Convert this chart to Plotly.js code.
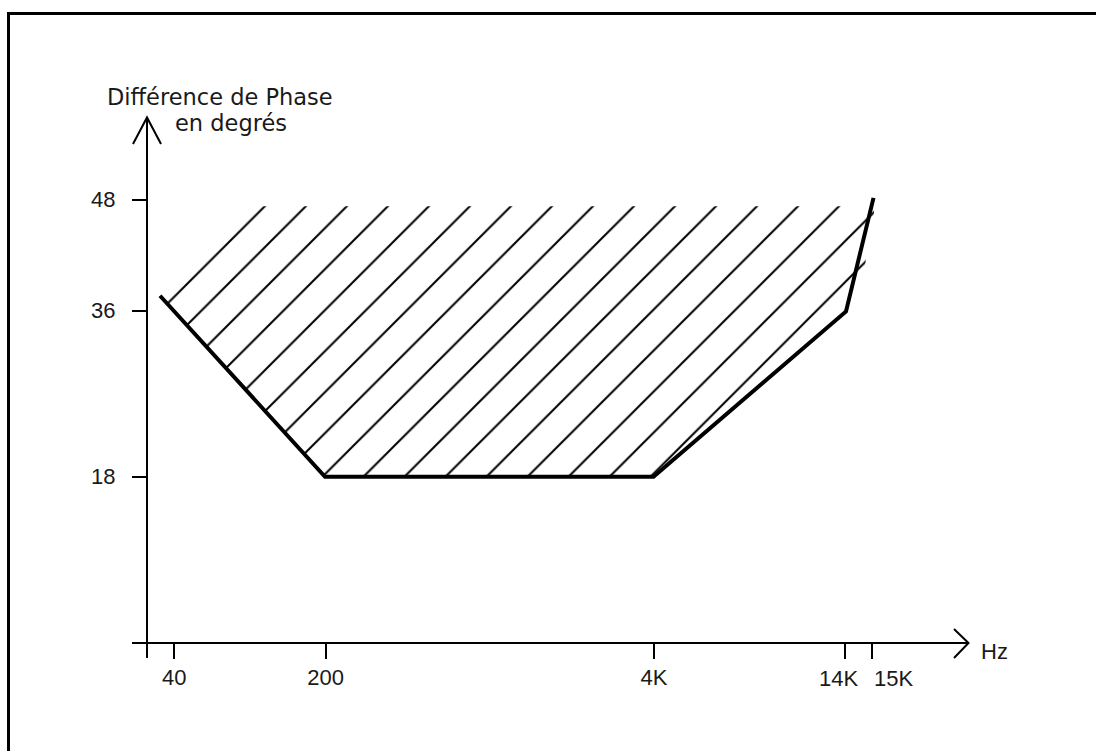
<!DOCTYPE html>
<html><head><meta charset="utf-8">
<script src="https://cdn.plot.ly/plotly-3.0.1.min.js"></script>
<style>html,body{margin:0;padding:0;background:#fff;}#chart{width:1096px;height:751px;}</style>
</head><body><div id="chart"></div>
<script>
// Schematic (non-uniform) frequency axis: axis units for each labelled frequency
const freqLabels = ['40', '200', '4K', '14K', '15K'];
const freqAxisPos = [2.73, 17.87, 50.7, 69.83, 72.53];
// Phase difference ticks (degrees)
const phaseTicks = [18, 36, 48];
// Limit curve (thick line)
const limitX = [1.3, 17.8, 50.65, 69.9, 72.65];
const limitY = [37.6, 18, 18, 35.9, 48.2];
// Hatched (acceptable) zone
const zoneX = [1.3, 17.8, 50.65, 69.9, 71.5, 72.7, 72.7, 11.4, 2.5, 1.3];
const zoneY = [37.6, 18, 18, 35.9, 39.0, 46.6, 47.3, 47.3, 37.7, 37.6];

const W = 1096, H = 751, L = 147, R = 128, T = 119, B = 108;
const PW = W - L - R, PH = H - T - B;
const PXU = 10, PYU = 9.235;
const px = v => (v - L) / PW;
const py = v => (H - B - v) / PH;
const TFONT = {family: '"DejaVu Sans", sans-serif', size: 22.5, color: '#1a1a1a'};
const NFONT = {family: '"Liberation Sans", Arial, sans-serif', size: 22, color: '#1a1a1a'};

function seg(x0, y0, x1, y1, w) {
  return {type: 'line', xref: 'paper', yref: 'paper', x0: px(x0), y0: py(y0), x1: px(x1), y1: py(y1),
          line: {color: '#000', width: w}, layer: 'above'};
}
function poly(pts, w) {
  let d = pts.map((p, i) => (i ? 'L' : 'M') + px(p[0]) + ',' + py(p[1])).join(' ');
  return {type: 'path', xref: 'paper', yref: 'paper', path: d, line: {color: '#000', width: w}, layer: 'above'};
}

const shapes = [
  seg(8.5, 13.5, 1100, 13.5, 3),
  seg(8.5, 12, 8.5, 760, 3),
  seg(132, 643, 969, 643, 2),
  seg(147, 658, 147, 117, 2),
  poly([[954, 629], [968.5, 643], [954, 658]], 2),
  poly([[133, 144], [147, 117.5], [161, 144]], 2)
];

const tickText = freqLabels.map((t, i) => i < 3 ? t : '');
const annotations = [
  {text: 'Différence de Phase', xref: 'paper', yref: 'paper', x: px(220), y: py(97), showarrow: false, font: TFONT, xanchor: 'center', yanchor: 'middle'},
  {text: 'en degrés', xref: 'paper', yref: 'paper', x: px(231), y: py(123), showarrow: false, font: TFONT, xanchor: 'center', yanchor: 'middle'},
  {text: 'Hz', xref: 'paper', yref: 'paper', x: px(995), y: py(651), showarrow: false, font: NFONT, xanchor: 'center', yanchor: 'middle'},
  {text: freqLabels[3], xref: 'x', yref: 'paper', x: freqAxisPos[3], xshift: -7, y: py(678), showarrow: false, font: NFONT, xanchor: 'center', yanchor: 'middle'},
  {text: freqLabels[4], xref: 'x', yref: 'paper', x: freqAxisPos[4], xshift: 21, y: py(678), showarrow: false, font: NFONT, xanchor: 'center', yanchor: 'middle'}
];

const data = [
  {x: zoneX, y: zoneY, type: 'scatter', mode: 'none', fill: 'toself', fillcolor: 'rgba(0,0,0,0)',
   fillpattern: {shape: '/', size: 29, solidity: 0.07, fgcolor: '#000', bgcolor: 'rgba(0,0,0,0)'},
   hoverinfo: 'skip', showlegend: false},
  {x: limitX, y: limitY, type: 'scatter', mode: 'lines', line: {color: '#000', width: 4},
   hoverinfo: 'skip', showlegend: false}
];

const layout = {
  width: W, height: H,
  margin: {l: L, r: R, t: T, b: B, pad: 0},
  paper_bgcolor: '#fff', plot_bgcolor: 'rgba(0,0,0,0)',
  showlegend: false,
  xaxis: {range: [0, PW / PXU], showgrid: false, zeroline: false, showline: false,
          tickmode: 'array', tickvals: freqAxisPos, ticktext: tickText,
          ticks: 'outside', ticklen: 15, tickwidth: 2, tickcolor: '#000',
          tickfont: NFONT, ticklabelstandoff: 0, fixedrange: true},
  yaxis: {range: [0, PH / PYU], showgrid: false, zeroline: false, showline: false,
          tickmode: 'array', tickvals: phaseTicks, ticktext: phaseTicks.map(String),
          ticks: 'outside', ticklen: 14, tickwidth: 2, tickcolor: '#000',
          tickfont: NFONT, ticklabelstandoff: 12, ticklabelshift: 0, fixedrange: true},
  shapes: shapes,
  annotations: annotations
};

Plotly.newPlot('chart', data, layout, {staticPlot: true, displayModeBar: false});
</script>
</body></html>
